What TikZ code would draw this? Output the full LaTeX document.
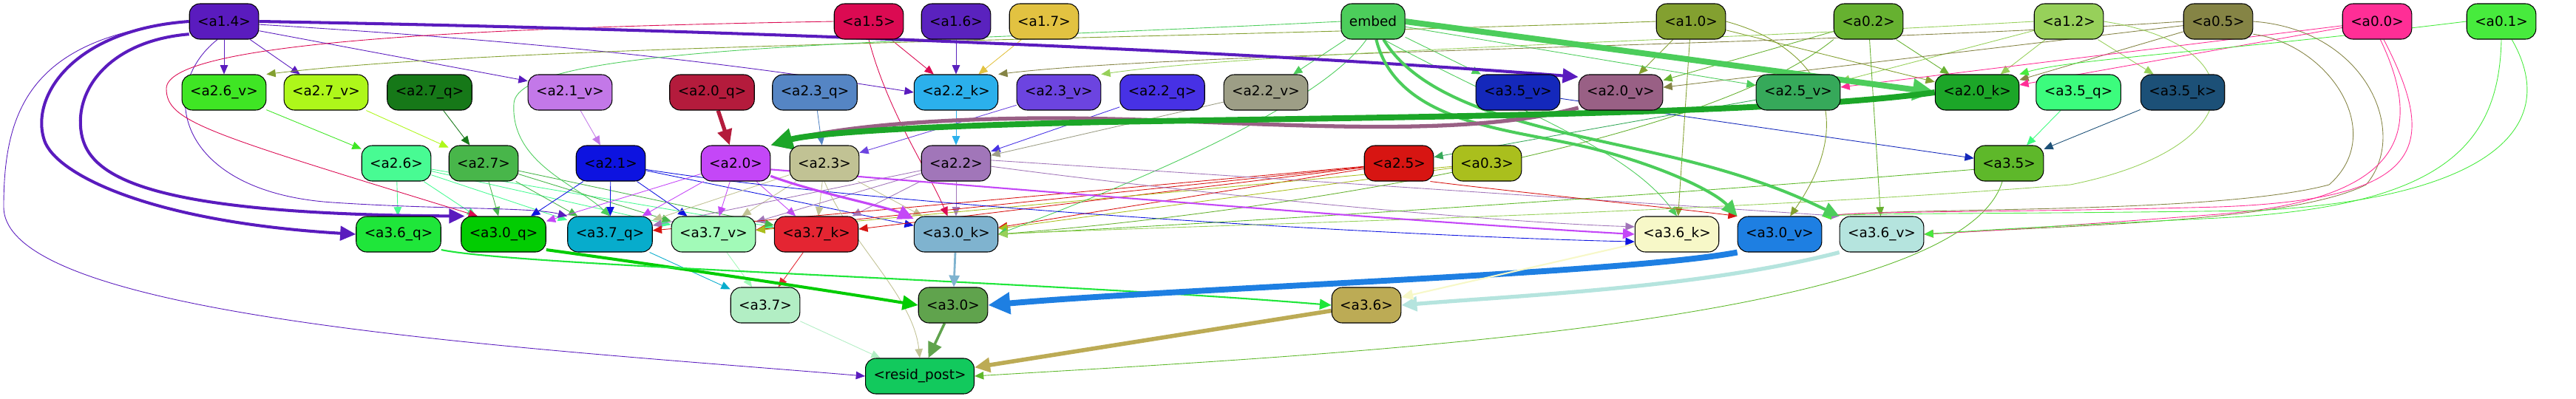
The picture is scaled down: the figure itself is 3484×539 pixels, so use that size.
\documentclass[tikz,border=0pt]{standalone}
\usepackage{fontspec}
\newfontfamily\lblfont{DejaVu Sans}
\usetikzlibrary{arrows.meta}
\pgfdeclarelayer{links}
\pgfsetlayers{links,main}
% node fills
\definecolor{c14}{HTML}{5A1BBE}
\definecolor{c15}{HTML}{DB0A52}
\definecolor{c16}{HTML}{5A22BE}
\definecolor{c17}{HTML}{E2C241}
\definecolor{cemb}{HTML}{4CCD5B}
\definecolor{c10}{HTML}{83A030}
\definecolor{c02}{HTML}{66B130}
\definecolor{c12}{HTML}{97D05A}
\definecolor{c05}{HTML}{858445}
\definecolor{c00}{HTML}{FF2E96}
\definecolor{c01}{HTML}{47EB3D}
\definecolor{c26v}{HTML}{3FE624}
\definecolor{c27v}{HTML}{AEF71A}
\definecolor{c27q}{HTML}{167818}
\definecolor{c21v}{HTML}{C378E8}
\definecolor{c20q}{HTML}{B41B3C}
\definecolor{c23q}{HTML}{5585C4}
\definecolor{c22k}{HTML}{2BB0EC}
\definecolor{c23v}{HTML}{6C44E0}
\definecolor{c22q}{HTML}{4731E5}
\definecolor{c22v}{HTML}{9D9E86}
\definecolor{c35v}{HTML}{1428BB}
\definecolor{c20v}{HTML}{996085}
\definecolor{c25v}{HTML}{36A95A}
\definecolor{c20k}{HTML}{1CA628}
\definecolor{c35q}{HTML}{3CFC7D}
\definecolor{c35k}{HTML}{1C5077}
\definecolor{c26}{HTML}{48FB93}
\definecolor{c27}{HTML}{48B64A}
\definecolor{c21}{HTML}{0D13E0}
\definecolor{c20}{HTML}{C447F7}
\definecolor{c23}{HTML}{C1C294}
\definecolor{c22}{HTML}{A176B9}
\definecolor{c25}{HTML}{D71512}
\definecolor{c03}{HTML}{AABF1D}
\definecolor{c35}{HTML}{5EB82A}
\definecolor{c36q}{HTML}{1FE63A}
\definecolor{c30q}{HTML}{02CC02}
\definecolor{c37q}{HTML}{07ACCC}
\definecolor{c37v}{HTML}{A2FAB8}
\definecolor{c37k}{HTML}{E42532}
\definecolor{c30k}{HTML}{7FB3CF}
\definecolor{c36k}{HTML}{F7F8C8}
\definecolor{c30v}{HTML}{1E7FE2}
\definecolor{c36v}{HTML}{B5E4DE}
\definecolor{c37}{HTML}{B2EEC4}
\definecolor{c30}{HTML}{60A34D}
\definecolor{c36}{HTML}{BCAB55}
\definecolor{cpost}{HTML}{12C95D}

\begin{document}
\begin{tikzpicture}[
  x=0.02cm, y=-0.02cm,
  box/.style={
    draw=black, line width=0.6pt, rounded corners=8pt, fill=#1,
    minimum height=0.96cm, inner xsep=0.22cm, inner ysep=0pt,
    font=\lblfont\fontsize{10.5}{12}\selectfont
  },
  lk/.style={draw=#1, line width=0.5pt, -{Triangle[length=7pt,width=6pt]}},
  lkm/.style={draw=#1, line width=1.2pt, -{Triangle[length=9pt,width=8pt]}},
  lkk/.style={draw=#1, line width=2.3pt, -{Triangle[length=12pt,width=11pt]}},
  lkx/.style={draw=#1, line width=4.5pt, -{Triangle[length=17pt,width=16pt]}}
]
\useasboundingbox (0,0) rectangle (3484,539);

% ============================================================
% nodes, row by row
% ============================================================
\node[box=c14]  (n14)  at (303, 29)  {<a1.4>};
\node[box=c15]  (n15)  at (1175, 29) {<a1.5>};
\node[box=c16]  (n16)  at (1293, 29) {<a1.6>};
\node[box=c17]  (n17)  at (1412, 29) {<a1.7>};
\node[box=cemb] (nemb) at (1857, 29) {embed};
\node[box=c10]  (n10)  at (2287, 29) {<a1.0>};
\node[box=c02]  (n02)  at (2527, 29) {<a0.2>};
\node[box=c12]  (n12)  at (2798, 29) {<a1.2>};
\node[box=c05]  (n05)  at (3000, 29) {<a0.5>};
\node[box=c00]  (n00)  at (3215, 29) {<a0.0>};
\node[box=c01]  (n01)  at (3383, 29) {<a0.1>};

\node[box=c26v] (n26v) at (303, 125)  {<a2.6\_v>};
\node[box=c27v] (n27v) at (441, 125)  {<a2.7\_v>};
\node[box=c27q] (n27q) at (581, 125)  {<a2.7\_q>};
\node[box=c21v] (n21v) at (771, 125)  {<a2.1\_v>};
\node[box=c20q] (n20q) at (963, 125)  {<a2.0\_q>};
\node[box=c23q] (n23q) at (1102, 125) {<a2.3\_q>};
\node[box=c22k] (n22k) at (1293, 125) {<a2.2\_k>};
\node[box=c23v] (n23v) at (1432, 125) {<a2.3\_v>};
\node[box=c22q] (n22q) at (1572, 125) {<a2.2\_q>};
\node[box=c22v] (n22v) at (1712, 125) {<a2.2\_v>};
\node[box=c35v] (n35v) at (2053, 125) {<a3.5\_v>};
\node[box=c20v] (n20v) at (2192, 125) {<a2.0\_v>};
\node[box=c25v] (n25v) at (2432, 125) {<a2.5\_v>};
\node[box=c20k] (n20k) at (2674, 125) {<a2.0\_k>};
\node[box=c35q] (n35q) at (2811, 125) {<a3.5\_q>};
\node[box=c35k] (n35k) at (2952, 125) {<a3.5\_k>};

\node[box=c26] (n26) at (536, 221)  {<a2.6>};
\node[box=c27] (n27) at (654, 221)  {<a2.7>};
\node[box=c21] (n21) at (826, 221)  {<a2.1>};
\node[box=c20] (n20) at (995, 221)  {<a2.0>};
\node[box=c23] (n23) at (1115, 221) {<a2.3>};
\node[box=c22] (n22) at (1293, 221) {<a2.2>};
\node[box=c25] (n25) at (1892, 221) {<a2.5>};
\node[box=c03] (n03) at (2011, 221) {<a0.3>};
\node[box=c35] (n35) at (2717, 221) {<a3.5>};

\node[box=c36q] (n36q) at (539, 317)  {<a3.6\_q>};
\node[box=c30q] (n30q) at (681, 317)  {<a3.0\_q>};
\node[box=c37q] (n37q) at (825, 317)  {<a3.7\_q>};
\node[box=c37v] (n37v) at (965, 317)  {<a3.7\_v>};
\node[box=c37k] (n37k) at (1104, 317) {<a3.7\_k>};
\node[box=c30k] (n30k) at (1293, 317) {<a3.0\_k>};
\node[box=c36k] (n36k) at (2268, 317) {<a3.6\_k>};
\node[box=c30v] (n30v) at (2407, 317) {<a3.0\_v>};
\node[box=c36v] (n36v) at (2545, 317) {<a3.6\_v>};

\node[box=c37] (n37) at (1035, 413) {<a3.7>};
\node[box=c30] (n30) at (1289, 413) {<a3.0>};
\node[box=c36] (n36) at (1848, 413) {<a3.6>};

\node[box=cpost] (npost) at (1244, 509) {<resid\_post>};

\begin{pgfonlayer}{links}
% ============================================================
% thin straight links
% ============================================================
\foreach \s/\t/\c in {
  n14/n26v/c14, n14/n27v/c14, n15/n22k/c15, n16/n22k/c16, n17/n22k/c17,
  n26v/n26/c26v, n27v/n27/c27v, n27q/n27/c27q, n21v/n21/c21v,
  n23q/n23/c23q, n23v/n23/c23v, n22k/n22/c22k, n22q/n22/c22q, n22v/n22/c22v,
  n25v/n25/c25v, n35q/n35/c35q, n35k/n35/c35k,
  n10/n20v/c10, n10/n20k/c10, n02/n20v/c02, n02/n20k/c02, n12/n20k/c12,
  n12/n35k/c12, n12/n25v/c12, n05/n20v/c05, n05/n20k/c05, n00/n20k/c00,
  n00/n25v/c00, nemb/n22v/cemb, nemb/n35v/cemb, nemb/n25v/cemb,
  n26/n36q/c26, n26/n30q/c26, n26/n37q/c26, n26/n37v/c26, n26/n37k/c26,
  n27/n30q/c27, n27/n37q/c27, n27/n37v/c27, n27/n37k/c27,
  n21/n30q/c21, n21/n37q/c21, n21/n37v/c21, n21/n30k/c21,
  n20/n30q/c20, n20/n37q/c20, n20/n37v/c20, n20/n37k/c20,
  n23/n37q/c23, n23/n37v/c23, n23/n37k/c23, n23/n30k/c23,
  n22/n37q/c22, n22/n37v/c22, n22/n37k/c22, n22/n30k/c22,
  n25/n37q/c25, n25/n37v/c25, n25/n37k/c25, n25/n30k/c25,
  n03/n30k/c03, n03/n37v/c03, n35v/n35/c35v,
  n10/n36k/c10, n02/n36v/c02,
  n37q/n37/c37q, n37v/n37/c37v, n37k/n37/c37k, n37/npost/c37} {
  \draw[lk=\c] (\s) -- (\t);
}

% long thin curves
\draw[lk=c14] (n14.-15) -- (n21v.165);
\draw[lk=c14] (n14.-5) .. controls (800, 60) and (1050, 95) .. (n22k.west);
\draw[lk=c14] (n14.250) .. controls (210, 120) and (240, 260) .. (450, 274)
  .. controls (600, 284) and (720, 280) .. (n37q.north west);
\draw[lk=c14] (n14.west) .. controls (40, 50) and (5, 150) .. (5, 280)
  .. controls (5, 430) and (700, 470) .. (npost.west);
\draw[lk=c15] (n15.west) .. controls (600, 38) and (225, 60) .. (225, 120)
  .. controls (225, 165) and (280, 180) .. (n30q.145);
\draw[lk=c15] (n15.south) .. controls (1200, 150) and (1255, 230) .. (n30k.115);
\draw[lk=c10] (n10.west) .. controls (1500, 55) and (700, 60) .. (n26v.north east);
\draw[lk=c05] (n05.west) .. controls (2500, 60) and (1600, 70) .. (n22k.north east);
\draw[lk=c12] (n12.west) .. controls (2300, 55) and (1700, 70) .. (n23v.north east);
\draw[lk=cemb] (nemb.west) .. controls (1200, 60) and (700, 60) .. (695, 140)
  .. controls (690, 220) and (780, 250) .. (n37q.north);
\draw[lk=cemb] (nemb.250) .. controls (1780, 150) and (1500, 260) .. (n30k.east);
\draw[lk=cemb] (nemb.-60) .. controls (2050, 150) and (2200, 200) .. (n36k.north);
\draw[lk=c21] (n21.-10) .. controls (1200, 280) and (1900, 320) .. (n36k.190);
\draw[lk=c22] (n22.-5) .. controls (1600, 260) and (2000, 300) .. (n36k.170);
\draw[lk=c22] (n22.5) .. controls (1700, 240) and (2300, 280) .. (n36v.north west);
\draw[lk=c25] (n25.-30) .. controls (2050, 260) and (2250, 280) .. (n30v.north west);
\draw[lk=c23] (n23.south) .. controls (1150, 330) and (1235, 400) .. (npost.north);
\draw[lk=c35] (n35.-110) .. controls (2650, 440) and (1800, 480) .. (npost.east);
\draw[lk=c35] (n35.190) .. controls (2300, 260) and (1700, 300) .. (n30k.east);
\draw[lk=c02] (n02.south west) .. controls (2300, 200) and (1700, 290) .. (n30k.east);
\draw[lk=c12] (n12.east) .. controls (3050, 60) and (3050, 200) .. (2800, 250)
  .. controls (2300, 290) and (1600, 305) .. (n30k.east);
\draw[lk=c10] (n10.east) .. controls (2450, 60) and (2520, 150) .. (n30v.60);
\draw[lk=c01] (n01.west) .. controls (3000, 70) and (2800, 80) .. (n20k.north east);
\draw[lk=c05] (n05.east) .. controls (3200, 40) and (3260, 180) .. (3200, 250)
  .. controls (3100, 300) and (2800, 305) .. (n36v.east);
\draw[lk=c05] (n05.-20) .. controls (3150, 60) and (3230, 180) .. (3150, 250)
  .. controls (3000, 290) and (2600, 280) .. (n30v.north east);
\draw[lk=c00] (n00.-80) .. controls (3280, 180) and (3250, 270) .. (3000, 290)
  .. controls (2800, 305) and (2700, 312) .. (n36v.east);
\draw[lk=c00] (n00.-70) .. controls (3300, 200) and (3280, 270) .. (3000, 280)
  .. controls (2700, 288) and (2550, 285) .. (n30v.north east);
\draw[lk=c01] (n01.south) .. controls (3380, 200) and (3300, 280) .. (3000, 295)
  .. controls (2800, 305) and (2700, 310) .. (n36v.east);
\draw[lk=c01] (n01.-60) .. controls (3470, 180) and (3350, 270) .. (3050, 285)
  .. controls (2700, 290) and (2550, 288) .. (n30v.north east);

% ============================================================
% heavy links
% ============================================================
\draw[lkk=c14] (n14.east) .. controls (1000, 40) and (1700, 70) .. (n20v.160);
\draw[lkk=c14] (n14.west) .. controls (100, 40) and (40, 130) .. (60, 190)
  .. controls (75, 235) and (200, 300) .. (n36q.west);
\draw[lkk=c14] (n14.200) .. controls (150, 55) and (100, 120) .. (110, 180)
  .. controls (120, 240) and (200, 290) .. (n30q.155);
\draw[lkx=cemb] (nemb.east) -- (n20k.west);
\draw[lkk=cemb] (nemb.280) .. controls (1890, 170) and (2050, 175) .. (2150, 200)
  .. controls (2250, 225) and (2320, 260) .. (n30v.north west);
\draw[lkk=cemb] (nemb.300) .. controls (1930, 150) and (2100, 175) .. (2250, 210)
  .. controls (2380, 240) and (2440, 270) .. (n36v.north west);
\draw[lkk=c20v, line width=3pt] (n20v.200) .. controls (1950, 195) and (1650, 158) .. (1400, 160)
  .. controls (1200, 162) and (1100, 180) .. (n20.north east);
\draw[lkx=c20k] (n20k.west) .. controls (2400, 155) and (1900, 158) .. (1500, 165)
  .. controls (1250, 170) and (1100, 180) .. (n20.north east);
\draw[lkk=c20q, line width=3pt] (n20q) -- (n20);
\draw[lkk=c20, line width=1.8pt] (n20.-20) .. controls (1100, 260) and (1200, 280) .. (n30k.160);
\draw[lkm=c20] (n20.-10) .. controls (1300, 250) and (1900, 300) .. (n36k.west);

\draw[lkk=c30q] (n30q.-20) .. controls (900, 360) and (1100, 390) .. (n30.west);
\draw[lkm=c36q] (n36q.-20) .. controls (700, 360) and (1400, 380) .. (n36.west);
\draw[lkm=c30k, line width=1.6pt] (n30k) -- (n30);
\draw[lkx=c30v] (n30v.south west) .. controls (2200, 370) and (1600, 390) .. (n30.east);
\draw[lkk=c36v, line width=3pt] (n36v.south west) .. controls (2300, 390) and (2050, 400) .. (n36.east);
\draw[lkm=c36k] (n36k) -- (n36);
\draw[lkk=c30, line width=2pt] (n30) -- (npost);
\draw[lkk=c36, line width=3.2pt] (n36) -- (npost);
\end{pgfonlayer}

\end{tikzpicture}
\end{document}
